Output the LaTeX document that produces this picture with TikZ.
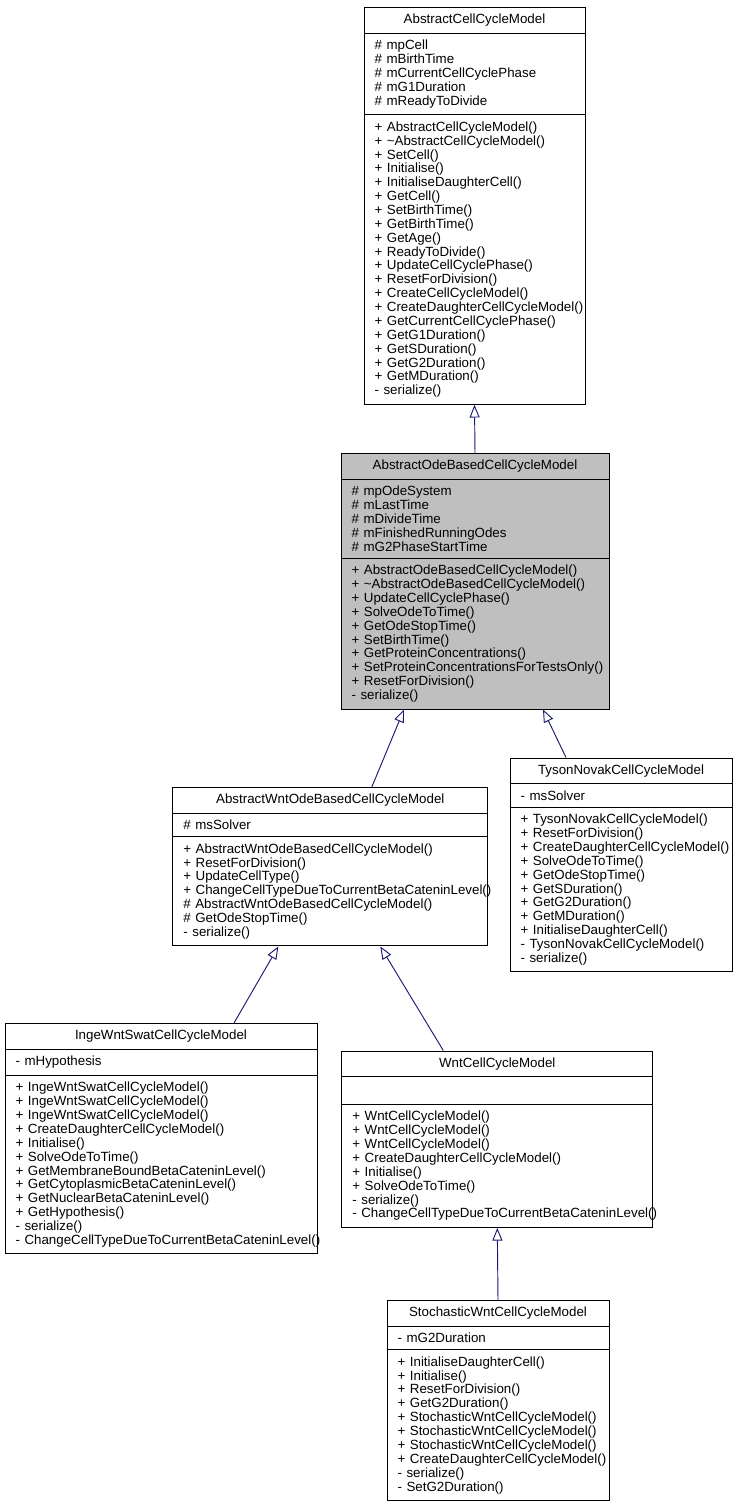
\documentclass[tikz,border=0pt]{standalone}
\usepackage{fontspec}
\setmainfont{Liberation Sans}
\usepackage{tikz}
\usetikzlibrary{positioning, shapes, arrows.meta, calc}

\definecolor{edgeblue}{HTML}{191970}
\definecolor{basegray}{HTML}{BFBFBF}

% one member per line, never wrapped
\newcommand{\umlattr}[1]{\mbox{#1}\par}
\newcommand{\umlop}[1]{\mbox{#1}\par}

\begin{document}
\begin{tikzpicture}[x=0.75pt, y=-0.75pt,
  umlclass/.style={rectangle split, rectangle split parts=3, anchor=north,
    draw=black, line width=0.75pt, fill=white,
    font={\fontsize{10}{10.4}\selectfont}, inner xsep=8pt, inner ysep=4.7pt,
    align=left, every text node part/.style={align=center}},
  inherit/.style={draw=edgeblue, line width=0.7pt,
    -{Triangle[open, length=9.5pt, width=7.5pt]}}]

\useasboundingbox (0,0) rectangle (737,1507);

% AbstractCellCycleModel (base class)
\node[umlclass, text width=149.75pt] (AbstractCellCycleModel) at (474.5,7) {
  AbstractCellCycleModel
  \nodepart{two}
  \umlattr{\# mpCell}
  \umlattr{\# mBirthTime}
  \umlattr{\# mCurrentCellCyclePhase}
  \umlattr{\# mG1Duration}
  \umlattr{\# mReadyToDivide}
  \nodepart{three}
  \umlop{+ AbstractCellCycleModel()}
  \umlop{+ \textasciitilde AbstractCellCycleModel()}
  \umlop{+ SetCell()}
  \umlop{+ Initialise()}
  \umlop{+ InitialiseDaughterCell()}
  \umlop{+ GetCell()}
  \umlop{+ SetBirthTime()}
  \umlop{+ GetBirthTime()}
  \umlop{+ GetAge()}
  \umlop{+ ReadyToDivide()}
  \umlop{+ UpdateCellCyclePhase()}
  \umlop{+ ResetForDivision()}
  \umlop{+ CreateCellCycleModel()}
  \umlop{+ CreateDaughterCellCycleModel()}
  \umlop{+ GetCurrentCellCyclePhase()}
  \umlop{+ GetG1Duration()}
  \umlop{+ GetSDuration()}
  \umlop{+ GetG2Duration()}
  \umlop{+ GetMDuration()}
  \umlop{- serialize()}
};

% AbstractOdeBasedCellCycleModel (highlighted class)
\node[umlclass, fill=basegray, text width=185pt] (AbstractOdeBasedCellCycleModel) at (475,453) {
  AbstractOdeBasedCellCycleModel
  \nodepart{two}
  \umlattr{\# mpOdeSystem}
  \umlattr{\# mLastTime}
  \umlattr{\# mDivideTime}
  \umlattr{\# mFinishedRunningOdes}
  \umlattr{\# mG2PhaseStartTime}
  \nodepart{three}
  \umlop{+ AbstractOdeBasedCellCycleModel()}
  \umlop{+ \textasciitilde AbstractOdeBasedCellCycleModel()}
  \umlop{+ UpdateCellCyclePhase()}
  \umlop{+ SolveOdeToTime()}
  \umlop{+ GetOdeStopTime()}
  \umlop{+ SetBirthTime()}
  \umlop{+ GetProteinConcentrations()}
  \umlop{+ SetProteinConcentrationsForTestsOnly()}
  \umlop{+ ResetForDivision()}
  \umlop{- serialize()}
};

% AbstractWntOdeBasedCellCycleModel
\node[umlclass, text width=220.25pt] (AbstractWntOdeBasedCellCycleModel) at (330.3,787) {
  AbstractWntOdeBasedCellCycleModel
  \nodepart{two}
  \umlattr{\# msSolver}
  \nodepart{three}
  \umlop{+ AbstractWntOdeBasedCellCycleModel()}
  \umlop{+ ResetForDivision()}
  \umlop{+ UpdateCellType()}
  \umlop{+ ChangeCellTypeDueToCurrentBetaCateninLevel()}
  \umlop{\# AbstractWntOdeBasedCellCycleModel()}
  \umlop{\# GetOdeStopTime()}
  \umlop{- serialize()}
};

% TysonNovakCellCycleModel
\node[umlclass, text width=150.5pt] (TysonNovakCellCycleModel) at (621,757.5) {
  TysonNovakCellCycleModel
  \nodepart{two}
  \umlattr{- msSolver}
  \nodepart{three}
  \umlop{+ TysonNovakCellCycleModel()}
  \umlop{+ ResetForDivision()}
  \umlop{+ CreateDaughterCellCycleModel()}
  \umlop{+ SolveOdeToTime()}
  \umlop{+ GetOdeStopTime()}
  \umlop{+ GetSDuration()}
  \umlop{+ GetG2Duration()}
  \umlop{+ GetMDuration()}
  \umlop{+ InitialiseDaughterCell()}
  \umlop{- TysonNovakCellCycleModel()}
  \umlop{- serialize()}
};

% IngeWntSwatCellCycleModel
\node[umlclass, text width=218pt] (IngeWntSwatCellCycleModel) at (161,1023) {
  IngeWntSwatCellCycleModel
  \nodepart{two}
  \umlattr{- mHypothesis}
  \nodepart{three}
  \umlop{+ IngeWntSwatCellCycleModel()}
  \umlop{+ IngeWntSwatCellCycleModel()}
  \umlop{+ IngeWntSwatCellCycleModel()}
  \umlop{+ CreateDaughterCellCycleModel()}
  \umlop{+ Initialise()}
  \umlop{+ SolveOdeToTime()}
  \umlop{+ GetMembraneBoundBetaCateninLevel()}
  \umlop{+ GetCytoplasmicBetaCateninLevel()}
  \umlop{+ GetNuclearBetaCateninLevel()}
  \umlop{+ GetHypothesis()}
  \umlop{- serialize()}
  \umlop{- ChangeCellTypeDueToCurrentBetaCateninLevel()}
};

% WntCellCycleModel (no attributes)
\node[umlclass, text width=217.25pt] (WntCellCycleModel) at (497.3,1050.5) {
  WntCellCycleModel
  \nodepart{two}
  \strut
  \nodepart{three}
  \umlop{+ WntCellCycleModel()}
  \umlop{+ WntCellCycleModel()}
  \umlop{+ WntCellCycleModel()}
  \umlop{+ CreateDaughterCellCycleModel()}
  \umlop{+ Initialise()}
  \umlop{+ SolveOdeToTime()}
  \umlop{- serialize()}
  \umlop{- ChangeCellTypeDueToCurrentBetaCateninLevel()}
};

% StochasticWntCellCycleModel
\node[umlclass, text width=150.5pt] (StochasticWntCellCycleModel) at (498,1300) {
  StochasticWntCellCycleModel
  \nodepart{two}
  \umlattr{- mG2Duration}
  \nodepart{three}
  \umlop{+ InitialiseDaughterCell()}
  \umlop{+ Initialise()}
  \umlop{+ ResetForDivision()}
  \umlop{+ GetG2Duration()}
  \umlop{+ StochasticWntCellCycleModel()}
  \umlop{+ StochasticWntCellCycleModel()}
  \umlop{+ StochasticWntCellCycleModel()}
  \umlop{+ CreateDaughterCellCycleModel()}
  \umlop{- serialize()}
  \umlop{- SetG2Duration()}
};

% Inheritance
\draw[inherit] (AbstractOdeBasedCellCycleModel.north) -- (AbstractCellCycleModel.south);
\draw[inherit] ($(AbstractWntOdeBasedCellCycleModel.north)+(41.5,0)$) -- ($(AbstractOdeBasedCellCycleModel.south)+(-71,0)$);
\draw[inherit] ($(TysonNovakCellCycleModel.north)+(-55,0)$) -- ($(AbstractOdeBasedCellCycleModel.south)+(68,0)$);
\draw[inherit] ($(IngeWntSwatCellCycleModel.north)+(73,0)$) -- ($(AbstractWntOdeBasedCellCycleModel.south)+(-52,0)$);
\draw[inherit] ($(WntCellCycleModel.north)+(-54,0)$) -- ($(AbstractWntOdeBasedCellCycleModel.south)+(50,0)$);
\draw[inherit] (StochasticWntCellCycleModel.north) -- (WntCellCycleModel.south);

\end{tikzpicture}
\end{document}
